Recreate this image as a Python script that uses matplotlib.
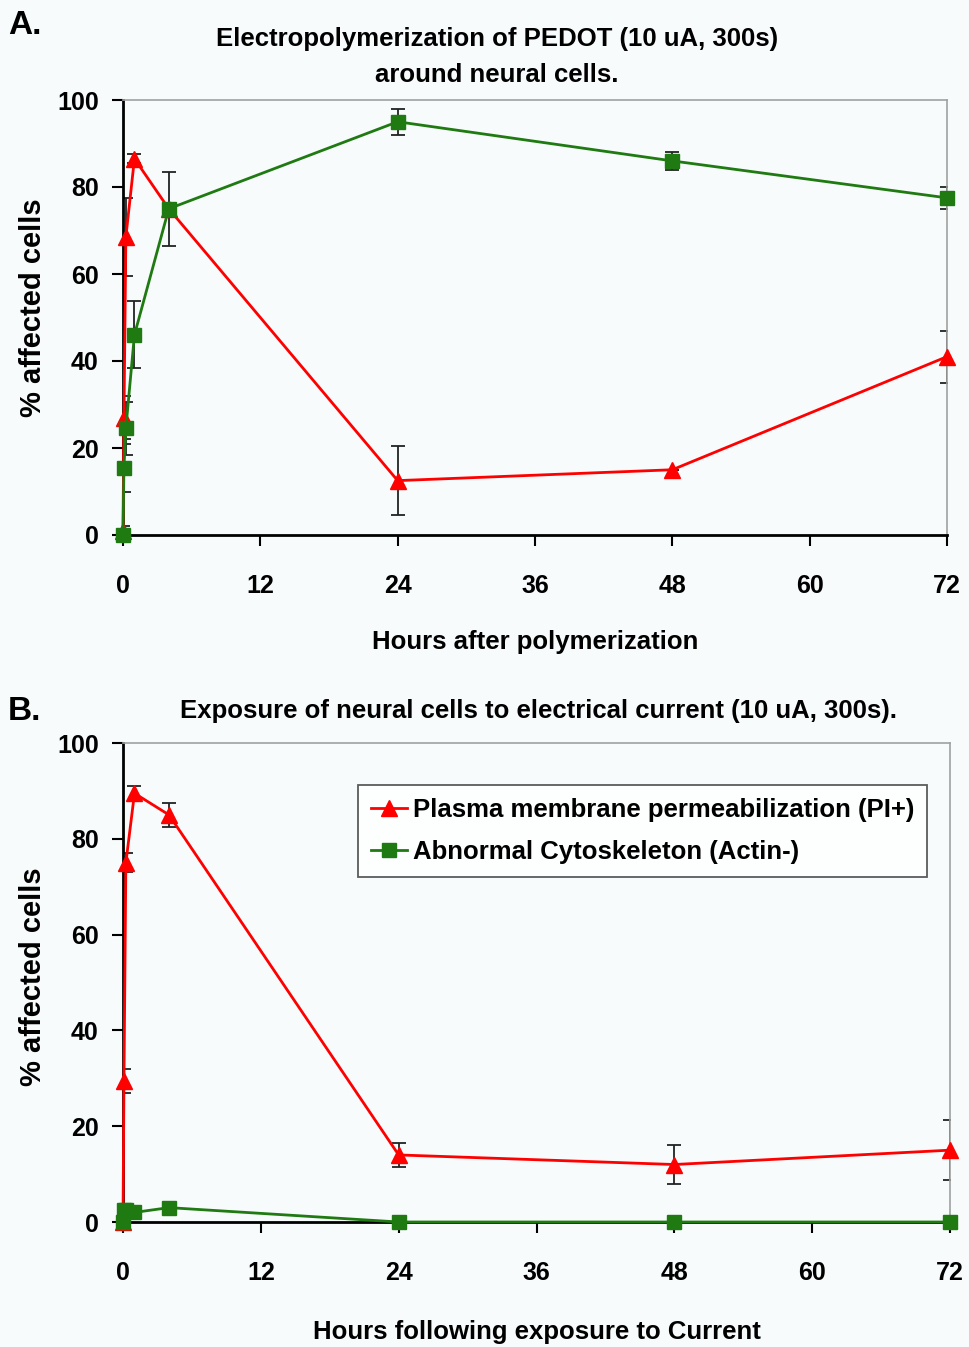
import matplotlib
matplotlib.use("Agg")
import matplotlib.pyplot as plt

plt.rcParams['font.family'] = ['Liberation Sans', 'DejaVu Sans']
plt.rcParams['font.weight'] = 'bold'

# Panel A data
hours_a = [0, 0.083, 0.25, 1, 4, 24, 48, 72]
pi_a = [1, 27, 68.5, 86.5, 75, 12.5, 15, 41]
pi_a_err = [1, 5, 9, 1, 1, 8, 0, 6]
actin_a = [0, 15.5, 24.5, 46, 75, 95, 86, 77.5]
actin_a_err = [0.5, 5.5, 6, 7.7, 8.5, 3, 2, 2.5]

# Panel B data
hours_b = [0, 0.083, 0.25, 1, 4, 24, 48, 72]
pi_b = [0, 29.5, 75, 89.5, 85, 14, 12, 15]
pi_b_err = [0.5, 2.5, 2, 1.5, 2.5, 2.5, 4, 6.3]
actin_b = [0, 2.5, 2.5, 2, 3, 0, 0, 0]
actin_b_err = [0, 0, 0, 0, 0, 0, 0, 0]

xticks = [0, 12, 24, 36, 48, 60, 72]
yticks = [0, 20, 40, 60, 80, 100]

bg = '#f7fbfc'
fig = plt.figure(figsize=(9.69, 13.47), dpi=100, facecolor=bg)
W, H = 969, 1347

def mkax(l, r, b, t):
    return fig.add_axes([l / W, 1 - b / H, (r - l) / W, (b - t) / H])

ax_a = mkax(123, 947, 535, 100)
ax_b = mkax(123, 950, 1222, 743)

text_fs = 18.5
tick_fs = 18

def style(ax):
    ax.set_facecolor(bg)
    ax.set_xlim(0, 72)
    ax.set_ylim(0, 100)
    ax.set_xticks(xticks)
    ax.set_yticks(yticks)
    ax.tick_params(axis='x', direction='out', length=8, width=1.5, pad=20, labelsize=tick_fs)
    ax.tick_params(axis='y', direction='out', length=8, width=1.5, pad=9.5, labelsize=tick_fs)
    for s in ['left', 'bottom']:
        ax.spines[s].set_color('black')
        ax.spines[s].set_linewidth(2)
    for s in ['top', 'right']:
        ax.spines[s].set_color('#a0a0a0')
        ax.spines[s].set_linewidth(1.2)
    for lab in ax.get_xticklabels() + ax.get_yticklabels():
        lab.set_fontweight('bold')

def series(ax, x, y, e, color, marker, ms, label):
    ax.errorbar(x, y, yerr=e, fmt='none', ecolor='#222222', elinewidth=1.3,
                capsize=5, capthick=1.3, zorder=2)
    ax.plot(x, y, color=color, lw=2, marker=marker, ms=ms, mec=color, mfc=color,
            label=label, zorder=3, clip_on=False)

for ax in (ax_a, ax_b):
    style(ax)

series(ax_a, hours_a, pi_a, pi_a_err, '#ff0000', '^', 12, 'Plasma membrane permeabilization (PI+)')
series(ax_a, hours_a, actin_a, actin_a_err, '#1f7a12', 's', 10.5, 'Abnormal Cytoskeleton (Actin-)')
series(ax_b, hours_b, pi_b, pi_b_err, '#ff0000', '^', 12, 'Plasma membrane permeabilization (PI+)')
series(ax_b, hours_b, actin_b, actin_b_err, '#1f7a12', 's', 10.5, 'Abnormal Cytoskeleton (Actin-)')

ax_a.set_title('Electropolymerization of PEDOT (10 uA, 300s)\naround neural cells.',
               fontsize=text_fs, fontweight='bold', pad=13, linespacing=1.62, x=0.454)
ax_b.set_title('Exposure of neural cells to electrical current (10 uA, 300s).',
               fontsize=text_fs, fontweight='bold', pad=18, x=0.503)
ax_a.set_xlabel('Hours after polymerization', fontsize=text_fs, fontweight='bold', labelpad=23)
ax_b.set_xlabel('Hours following exposure to Current', fontsize=text_fs, fontweight='bold', labelpad=25)
ax_a.set_ylabel('% affected cells', fontsize=21, fontweight='bold')
ax_b.set_ylabel('% affected cells', fontsize=21, fontweight='bold')
ax_a.yaxis.set_label_coords((47 - 123) / 824, (535 - 308) / 435)
ax_b.yaxis.set_label_coords((47 - 123) / 827, (1222 - 977) / 479)

leg = ax_b.legend(loc='upper left', bbox_to_anchor=((358 - 123) / (950 - 123), 1 - (785 - 743) / (1222 - 743)),
                  frameon=True, fancybox=False, fontsize=text_fs, handlelength=1.4,
                  handletextpad=0.25, borderpad=0.5, labelspacing=0.7, borderaxespad=0)
leg.get_frame().set_edgecolor('#333333')
leg.get_frame().set_linewidth(1.3)
leg.get_frame().set_facecolor('white')
for t in leg.get_texts():
    t.set_fontweight('bold')

fig.text(8 / W, 1 - 25 / H, 'A.', fontsize=24, fontweight='bold', va='center', ha='left')
fig.text(8 / W, 1 - 712 / H, 'B.', fontsize=24, fontweight='bold', va='center', ha='left')

fig.savefig('out.png', dpi=100, facecolor=bg)
